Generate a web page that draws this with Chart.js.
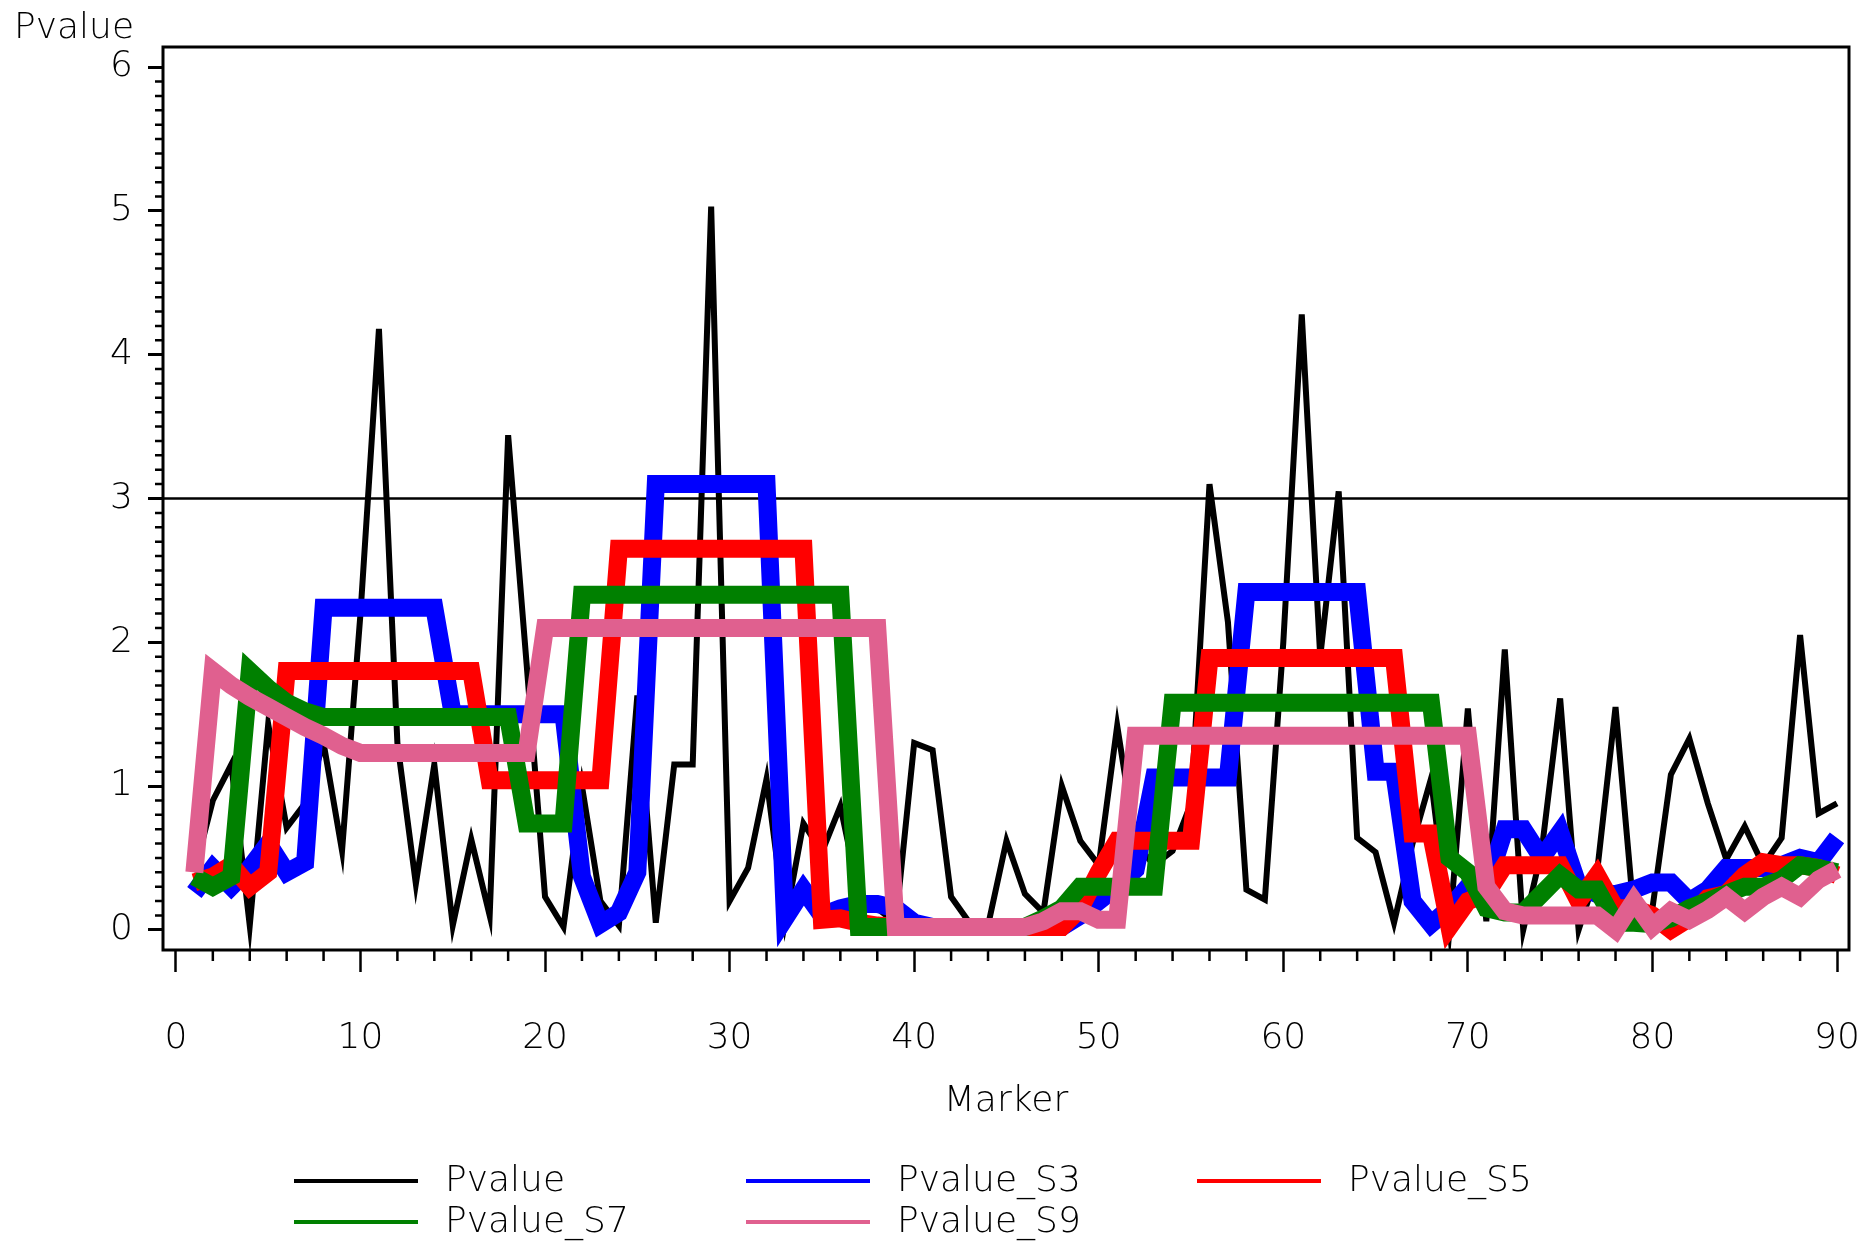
<!DOCTYPE html>
<html>
<head>
<meta charset="utf-8">
<title>Pvalue by Marker</title>
<script src="https://cdn.jsdelivr.net/npm/chart.js@4.4.1/dist/chart.umd.min.js"></script>
<style>
  html, body { margin: 0; padding: 0; background: #fff; }
  #wrap { width: 1862px; height: 1243px; }
</style>
</head>
<body>
<div id="wrap"><canvas id="chart" width="1862" height="1243"></canvas></div>
<script>
// marker index on the x axis
const markers = [
  1, 2, 3, 4, 5, 6, 7, 8, 9, 10, 11, 12, 13, 14, 15, 16, 17, 18, 19, 20,
  21, 22, 23, 24, 25, 26, 27, 28, 29, 30, 31, 32, 33, 34, 35, 36, 37, 38, 39, 40,
  41, 42, 43, 44, 45, 46, 47, 48, 49, 50, 51, 52, 53, 54, 55, 56, 57, 58, 59, 60,
  61, 62, 63, 64, 65, 66, 67, 68, 69, 70, 71, 72, 73, 74, 75, 76, 77, 78, 79, 80,
  81, 82, 83, 84, 85, 86, 87, 88, 89, 90
];

const pvalue = [
  0.40, 0.90, 1.15, 0.03, 1.43, 0.71, 0.88, 1.30, 0.55, 2.20,
  4.18, 1.30, 0.32, 1.15, 0.03, 0.63, 0.10, 3.44, 1.85, 0.23,
  0.02, 1.00, 0.20, 0.03, 1.63, 0.05, 1.15, 1.15, 5.03, 0.20,
  0.43, 1.05, 0.05, 0.74, 0.54, 0.86, 0.25, 0.15, 0.05, 1.30,
  1.25, 0.23, 0.05, 0.03, 0.62, 0.25, 0.12, 1.00, 0.62, 0.45,
  1.42, 0.60, 0.45, 0.55, 0.88, 3.10, 2.14, 0.28, 0.21, 2.00,
  4.28, 1.90, 3.05, 0.64, 0.54, 0.05, 0.60, 1.05, 0.00, 1.54,
  0.06, 1.95, 0.00, 0.55, 1.61, 0.00, 0.40, 1.55, 0.10, 0.15,
  1.08, 1.33, 0.88, 0.49, 0.72, 0.45, 0.64, 2.05, 0.81, 0.88
];

const pvalueS3 = [
  0.26, 0.43, 0.30, 0.43, 0.60, 0.40, 0.47, 2.24, 2.24, 2.24,
  2.24, 2.24, 2.24, 2.24, 1.50, 1.50, 1.50, 1.50, 1.50, 1.50,
  1.50, 0.37, 0.04, 0.12, 0.40, 3.10, 3.10, 3.10, 3.10, 3.10,
  3.10, 3.10, 0.08, 0.28, 0.10, 0.15, 0.18, 0.18, 0.15, 0.05,
  0.02, 0.02, 0.02, 0.02, 0.02, 0.02, 0.02, 0.02, 0.10, 0.20,
  0.30, 0.42, 1.06, 1.06, 1.06, 1.06, 1.06, 2.35, 2.35, 2.35,
  2.35, 2.35, 2.35, 2.35, 1.10, 1.10, 0.20, 0.04, 0.15, 0.30,
  0.30, 0.70, 0.70, 0.50, 0.68, 0.30, 0.25, 0.25, 0.28, 0.33,
  0.33, 0.20, 0.28, 0.43, 0.43, 0.43, 0.45, 0.50, 0.47, 0.64
];

const pvalueS5 = [
  0.33, 0.37, 0.45, 0.30, 0.40, 1.80, 1.80, 1.80, 1.80, 1.80,
  1.80, 1.80, 1.80, 1.80, 1.80, 1.80, 1.04, 1.04, 1.04, 1.04,
  1.04, 1.04, 1.04, 2.65, 2.65, 2.65, 2.65, 2.65, 2.65, 2.65,
  2.65, 2.65, 2.65, 2.65, 0.07, 0.08, 0.05, 0.03, 0.02, 0.02,
  0.02, 0.02, 0.02, 0.02, 0.02, 0.02, 0.02, 0.02, 0.15, 0.40,
  0.62, 0.62, 0.62, 0.62, 0.62, 1.89, 1.89, 1.89, 1.89, 1.89,
  1.89, 1.89, 1.89, 1.89, 1.89, 1.89, 0.67, 0.67, 0.02, 0.20,
  0.25, 0.45, 0.45, 0.45, 0.45, 0.20, 0.38, 0.15, 0.15, 0.10,
  0.00, 0.08, 0.22, 0.25, 0.38, 0.47, 0.45, 0.45, 0.43, 0.38
];

const pvalueS7 = [
  0.37, 0.30, 0.37, 1.80, 1.68, 1.58, 1.52, 1.48, 1.48, 1.48,
  1.48, 1.48, 1.48, 1.48, 1.48, 1.48, 1.48, 1.48, 0.74, 0.74,
  0.74, 2.33, 2.33, 2.33, 2.33, 2.33, 2.33, 2.33, 2.33, 2.33,
  2.33, 2.33, 2.33, 2.33, 2.33, 2.33, 0.02, 0.02, 0.02, 0.02,
  0.02, 0.02, 0.02, 0.02, 0.02, 0.02, 0.08, 0.15, 0.30, 0.30,
  0.30, 0.30, 0.30, 1.58, 1.58, 1.58, 1.58, 1.58, 1.58, 1.58,
  1.58, 1.58, 1.58, 1.58, 1.58, 1.58, 1.58, 1.58, 0.50, 0.40,
  0.15, 0.12, 0.12, 0.25, 0.38, 0.28, 0.28, 0.05, 0.05, 0.04,
  0.08, 0.15, 0.20, 0.25, 0.30, 0.30, 0.35, 0.45, 0.43, 0.40
];

const pvalueS9 = [
  0.40, 1.80, 1.70, 1.62, 1.55, 1.48, 1.41, 1.35, 1.28, 1.23,
  1.23, 1.23, 1.23, 1.23, 1.23, 1.23, 1.23, 1.23, 1.23, 2.10,
  2.10, 2.10, 2.10, 2.10, 2.10, 2.10, 2.10, 2.10, 2.10, 2.10,
  2.10, 2.10, 2.10, 2.10, 2.10, 2.10, 2.10, 2.10, 0.02, 0.02,
  0.02, 0.02, 0.02, 0.02, 0.02, 0.02, 0.06, 0.13, 0.13, 0.07,
  0.07, 1.35, 1.35, 1.35, 1.35, 1.35, 1.35, 1.35, 1.35, 1.35,
  1.35, 1.35, 1.35, 1.35, 1.35, 1.35, 1.35, 1.35, 1.35, 1.35,
  0.30, 0.13, 0.10, 0.10, 0.10, 0.10, 0.10, 0.00, 0.20, 0.02,
  0.13, 0.07, 0.14, 0.23, 0.13, 0.23, 0.30, 0.23, 0.35, 0.42
];

const seriesNames = ['Pvalue', 'Pvalue_S3', 'Pvalue_S5', 'Pvalue_S7', 'Pvalue_S9'];
const seriesValues = [pvalue, pvalueS3, pvalueS5, pvalueS7, pvalueS9];
const seriesColors = ['#000000', '#0000ff', '#ff0000', '#008000', '#e0608f'];
const seriesWidths = [6, 18, 18, 18, 18];

const xTicks = [0, 10, 20, 30, 40, 50, 60, 70, 80, 90];
const yTicks = [0, 1, 2, 3, 4, 5, 6];
const xTitle = 'Marker';
const yTitle = 'Pvalue';
const threshold = 3;

const FONT = '"DejaVu Sans", "Liberation Sans", sans-serif';
const FONT_SIZE = 36;

// minor tick positions (axis decoration only)
const xMinor = [];
for (let v = 2; v < 90; v += 2) if (v % 10 !== 0) xMinor.push(v);
const yMinor = [];
for (let k = 1; k < 60; k++) if (k % 10 !== 0) yMinor.push(k / 10);

const datasets = seriesNames.map((name, i) => ({
  label: name,
  data: markers.map((m, j) => ({ x: m, y: seriesValues[i][j] })),
  borderColor: seriesColors[i],
  backgroundColor: seriesColors[i],
  borderWidth: seriesWidths[i],
  borderJoinStyle: 'miter',
  pointRadius: 0,
  tension: 0,
  fill: false,
  order: seriesNames.length - i   // first series at the back, last on top
}));

const framePlugin = {
  id: 'frame',
  beforeDatasetsDraw(chart) {
    const { ctx, chartArea: a, scales: { y } } = chart;
    const ty = y.getPixelForValue(threshold);
    ctx.save();
    ctx.strokeStyle = '#000';
    ctx.lineWidth = 2.5;
    ctx.beginPath();
    ctx.moveTo(a.left, ty);
    ctx.lineTo(a.right, ty);
    ctx.stroke();
    ctx.restore();
  },
  afterDraw(chart) {
    const { ctx, chartArea: a, scales: { x, y } } = chart;
    ctx.save();
    ctx.strokeStyle = '#000';
    ctx.lineWidth = 3;
    ctx.strokeRect(a.left, a.top, a.right - a.left, a.bottom - a.top);

    // minor ticks
    ctx.lineWidth = 2.5;
    ctx.beginPath();
    xMinor.forEach(v => {
      const px = x.getPixelForValue(v);
      ctx.moveTo(px, a.bottom);
      ctx.lineTo(px, a.bottom + 11);
    });
    yMinor.forEach(v => {
      const py = y.getPixelForValue(v);
      ctx.moveTo(a.left, py);
      ctx.lineTo(a.left - 8, py);
    });
    ctx.stroke();

    // axis titles
    ctx.fillStyle = '#000';
    ctx.font = `200 ${FONT_SIZE}px ${FONT}`;
    ctx.textBaseline = 'alphabetic';
    ctx.textAlign = 'left';
    ctx.fillText(yTitle, 14, 38);
    ctx.textAlign = 'center';
    ctx.fillText(xTitle, (a.left + a.right) / 2, 1111);

    // legend, three columns
    const cols = [294, 746, 1197];
    const rows = [1181, 1222];
    ctx.textAlign = 'left';
    ctx.textBaseline = 'middle';
    chart.data.datasets.forEach((ds, i) => {
      const lx = cols[i % 3];
      const ly = rows[Math.floor(i / 3)];
      ctx.strokeStyle = ds.borderColor;
      ctx.lineWidth = 4;
      ctx.beginPath();
      ctx.moveTo(lx, ly);
      ctx.lineTo(lx + 124, ly);
      ctx.stroke();
      ctx.fillText(ds.label, lx + 151, ly + 1);
    });
    ctx.restore();
  }
};

new Chart(document.getElementById('chart'), {
  type: 'line',
  data: { datasets: datasets },
  options: {
    responsive: false,
    devicePixelRatio: 1,
    animation: false,
    layout: { padding: { left: 0, top: 47, right: 13, bottom: 163 } },
    plugins: {
      legend: { display: false },
      tooltip: { enabled: false }
    },
    scales: {
      x: {
        type: 'linear',
        min: -0.7,
        max: 90.65,
        afterBuildTicks: scale => { scale.ticks = xTicks.map(v => ({ value: v })); },
        afterFit: scale => {
          scale.height = 130;
          scale.paddingLeft = 0;
          scale.paddingRight = 0;
        },
        border: { display: false },
        grid: {
          drawOnChartArea: false,
          drawTicks: true,
          tickLength: 22,
          tickWidth: 2.5,
          tickColor: '#000'
        },
        ticks: {
          padding: 45,
          maxRotation: 0,
          autoSkip: false,
          color: '#000',
          font: { family: FONT, size: FONT_SIZE, weight: '200' }
        }
      },
      y: {
        type: 'linear',
        min: -0.14,
        max: 6.14,
        afterBuildTicks: scale => { scale.ticks = yTicks.map(v => ({ value: v })); },
        afterFit: scale => {
          scale.width = 163;
          scale.paddingTop = 0;
          scale.paddingBottom = 0;
        },
        border: { display: false },
        grid: {
          drawOnChartArea: false,
          drawTicks: true,
          tickLength: 15,
          tickWidth: 3,
          tickColor: '#000'
        },
        ticks: {
          padding: 15,
          color: '#000',
          font: { family: FONT, size: FONT_SIZE, weight: '200' }
        }
      }
    }
  },
  plugins: [framePlugin]
});
</script>
</body>
</html>
